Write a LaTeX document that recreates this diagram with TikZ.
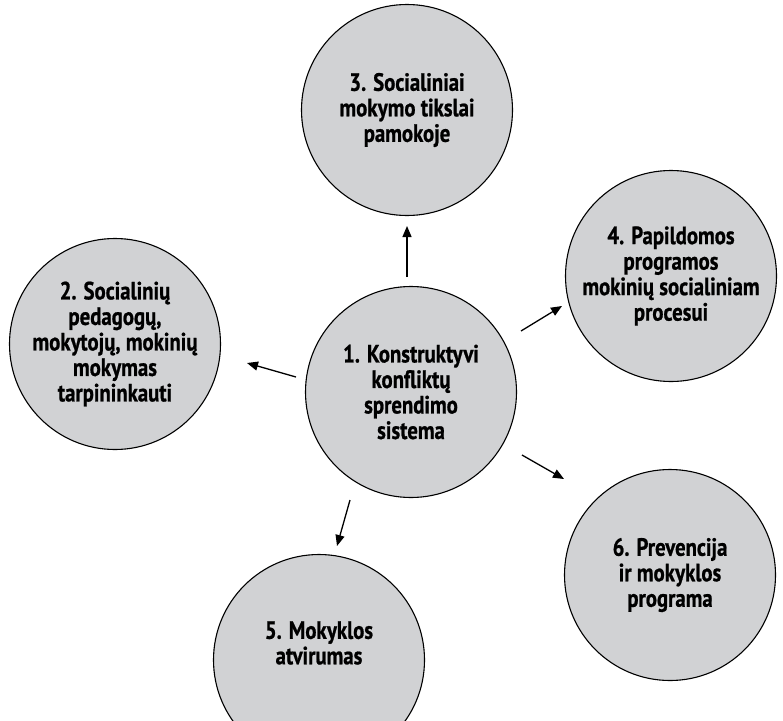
\documentclass[tikz,border=0pt]{standalone}
\usepackage{fontspec}
\setmainfont{PT Sans}[FakeStretch=0.83,BoldFeatures={FakeBold=0.8}]
\usetikzlibrary{arrows.meta}
\definecolor{bubblegray}{RGB}{209,210,212}
\begin{document}
\begin{tikzpicture}[x=1pt,y=-1pt,
  bubbletext/.style={align=center, font=\bfseries\fontsize{25}{25.5}\selectfont},
  bubble/.style={circle, draw=black, line width=1.1pt, fill=bubblegray,
    minimum size=211pt, inner sep=0pt, bubbletext},
  link/.style={line width=1.3pt, -{Triangle[length=11pt,width=9pt]}}]
\useasboundingbox (0,0) rectangle (783,720);
\clip (0,0) rectangle (783,720);
\node[bubble] (c1) at (411,392) {1. Konstruktyvi\\konfliktų\\sprendimo\\sistema};
\node[bubble] (c2) at (115,344) {2. Socialinių\\pedagogų,\\mokytojų, mokinių\\mokymas\\tarpininkauti};
\node[bubble] (c3) at (407,110) {3. Socialiniai\\mokymo tikslai\\pamokoje};
\node[bubble] (c4) at (671,276) {4. Papildomos\\programos\\mokinių socialiniam\\procesui};
\node[bubble] (c6) at (670,575) {6. Prevencija\\ir mokyklos\\programa};
\node[bubble] (c5) at (319,660) {};
\node[bubbletext] (t5) at ([yshift=17pt]c5.center) {5. Mokyklos\\atvirumas};
\coordinate (a3s) at (407,277);
\coordinate (a3e) at (407,226);
\coordinate (a2s) at (296,377);
\coordinate (a2e) at (247,363);
\coordinate (a4s) at (521,331);
\coordinate (a4e) at (562,306);
\coordinate (a6s) at (522,455);
\coordinate (a6e) at (564,479);
\coordinate (a5s) at (350,500);
\coordinate (a5e) at (337,546);
\draw[link] (a3s) -- (a3e);
\draw[link] (a2s) -- (a2e);
\draw[link] (a4s) -- (a4e);
\draw[link] (a6s) -- (a6e);
\draw[link] (a5s) -- (a5e);
\end{tikzpicture}
\end{document}
